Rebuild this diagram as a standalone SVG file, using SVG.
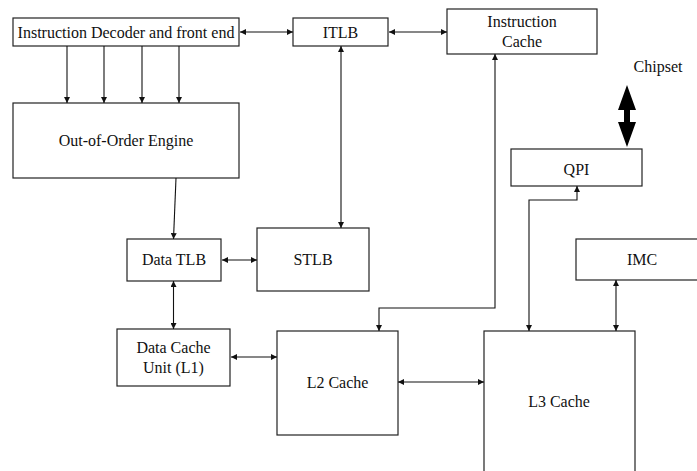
<svg xmlns="http://www.w3.org/2000/svg" width="697" height="471" viewBox="0 0 697 471">
<style>
.box{fill:#fff;stroke:#222;stroke-width:1.2}
.t{font-family:"Liberation Serif","Times New Roman",serif;font-size:16px;fill:#111;text-anchor:middle}
.c{fill:none;stroke:#111;stroke-width:1.1}
.a{marker-end:url(#ah)}
.b{marker-start:url(#ah);marker-end:url(#ah)}
</style>
<defs>
<marker id="ah" viewBox="0 0 10 10" refX="10" refY="5" markerWidth="7" markerHeight="6" markerUnits="userSpaceOnUse" orient="auto-start-reverse">
<path d="M0,0 L10,5 L0,10 z" fill="#111"/>
</marker>
</defs>
<rect width="697" height="471" fill="#fff"/>
<g id="decoder"><rect class="box" x="13" y="18" width="226" height="28"/><text class="t" x="126" y="37.5">Instruction Decoder and front end</text></g>
<g id="itlb"><rect class="box" x="293" y="18" width="95" height="28"/><text class="t" x="340.5" y="37.5">ITLB</text></g>
<g id="icache"><rect class="box" x="447" y="9" width="150" height="45"/><text class="t" x="522" y="27">Instruction</text><text class="t" x="522" y="47">Cache</text></g>
<g id="chipset"><text class="t" x="658" y="72">Chipset</text></g>
<g id="qpi"><rect class="box" x="511" y="149" width="131" height="37"/><text class="t" x="576.5" y="175">QPI</text></g>
<g id="ooo"><rect class="box" x="13" y="103" width="226" height="75"/><text class="t" x="126" y="146">Out-of-Order Engine</text></g>
<g id="dtlb"><rect class="box" x="127" y="239" width="94" height="42"/><text class="t" x="174" y="265">Data TLB</text></g>
<g id="stlb"><rect class="box" x="257" y="228" width="112" height="63"/><text class="t" x="313" y="265">STLB</text></g>
<g id="imc"><rect class="box" x="576" y="239" width="130" height="41"/><text class="t" x="642" y="265">IMC</text></g>
<g id="dcu"><rect class="box" x="117" y="329" width="113" height="57"/><text class="t" x="173.5" y="353">Data Cache</text><text class="t" x="173.5" y="373">Unit (L1)</text></g>
<g id="l2"><rect class="box" x="277" y="331" width="121" height="104"/><text class="t" x="337.5" y="388">L2 Cache</text></g>
<g id="l3"><rect class="box" x="484" y="331" width="151" height="150"/><text class="t" x="559" y="407">L3 Cache</text></g>
<g id="connectors">
<line class="c b" x1="240" y1="32" x2="293" y2="32"/>
<line class="c b" x1="389" y1="32" x2="447" y2="32"/>
<line class="c a" x1="67" y1="46" x2="67" y2="103"/>
<line class="c a" x1="104" y1="46" x2="104" y2="103"/>
<line class="c a" x1="142" y1="46" x2="142" y2="103"/>
<line class="c a" x1="179" y1="46" x2="179" y2="103"/>
<line class="c b" x1="341" y1="46" x2="341" y2="228"/>
<line class="c a" x1="176" y1="178" x2="173.5" y2="239"/>
<line class="c b" x1="222" y1="260" x2="257" y2="260"/>
<line class="c b" x1="173.5" y1="281" x2="173.5" y2="329"/>
<line class="c b" x1="231" y1="357" x2="277" y2="357"/>
<polyline class="c b" points="495,54 495,308 379,308 379,331"/>
<line class="c b" x1="398" y1="382" x2="484" y2="382"/>
<polyline class="c b" points="577,186 577,200 529,200 529,331"/>
<line class="c b" x1="616" y1="280" x2="616" y2="331"/>
<polygon points="627,85 636,110 630,110 630,122 636,122 627,147 618,122 624,122 624,110 618,110" fill="#000"/>
</g>
</svg>
